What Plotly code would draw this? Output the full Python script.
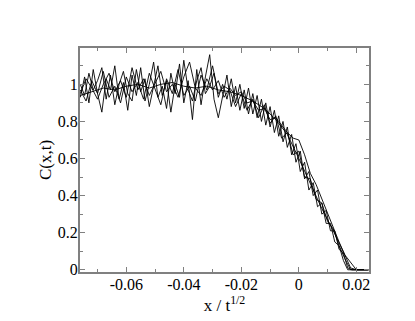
import plotly.graph_objects as go

# ---- data ------------------------------------------------------------------

# fine grid (step 0.0015)
x_fine = [-0.0760, -0.0745, -0.0730, -0.0715, -0.0700, -0.0685, -0.0670, -0.0655,
          -0.0640, -0.0625, -0.0610, -0.0595, -0.0580, -0.0565, -0.0550, -0.0535,
          -0.0520, -0.0505, -0.0490, -0.0475, -0.0460, -0.0445, -0.0430, -0.0415,
          -0.0400, -0.0385, -0.0370, -0.0355, -0.0340, -0.0325, -0.0310, -0.0295,
          -0.0280, -0.0265, -0.0250, -0.0235, -0.0220, -0.0205, -0.0190, -0.0175,
          -0.0160, -0.0145, -0.0130, -0.0115, -0.0100, -0.0085, -0.0070, -0.0055,
          -0.0040, -0.0025, -0.0010, 0.0005, 0.0020, 0.0035, 0.0050, 0.0065,
          0.0080, 0.0095, 0.0110, 0.0125, 0.0140, 0.0155, 0.0170, 0.0185,
          0.0200, 0.0215, 0.0230, 0.0245]

c_run1 = [0.93, 1.04, 0.90, 1.08, 0.95, 0.85, 1.03, 0.97, 1.10, 0.92, 1.01, 0.86,
          1.05, 0.94, 1.09, 0.91, 1.00, 1.12, 0.93, 0.99, 0.87, 1.06, 0.95, 1.11,
          0.90, 1.02, 0.81, 1.08, 0.89, 1.04, 1.16, 0.92, 0.82, 0.94, 1.05, 0.88,
          0.99, 0.86, 0.97, 0.84, 0.95, 0.82, 0.92, 0.78, 0.88, 0.74, 0.83, 0.69,
          0.77, 0.62, 0.68, 0.53, 0.58, 0.43, 0.47, 0.34, 0.36, 0.25, 0.25, 0.15,
          0.13, 0.05, 0.00, 0.00, 0.00, 0.00, 0.00, 0.00]

c_run2 = [1.00, 0.94, 1.06, 0.97, 1.02, 1.09, 0.92, 1.05, 0.89, 1.00, 1.07, 0.95,
          0.91, 1.08, 0.96, 1.03, 0.88, 0.99, 1.10, 0.94, 1.02, 0.85, 1.00, 0.93,
          1.13, 0.97, 0.91, 1.02, 1.09, 0.95, 0.99, 1.06, 0.93, 1.00, 0.92, 1.03,
          0.90, 1.00, 0.87, 0.98, 0.84, 0.94, 0.80, 0.90, 0.77, 0.86, 0.72, 0.80,
          0.66, 0.73, 0.58, 0.64, 0.49, 0.53, 0.40, 0.43, 0.30, 0.32, 0.21, 0.21,
          0.11, 0.09, 0.01, 0.00, 0.00, 0.00, 0.00, 0.00]

# medium grid (step 0.002)
x_mid = [-0.076, -0.074, -0.072, -0.070, -0.068, -0.066, -0.064, -0.062, -0.060,
         -0.058, -0.056, -0.054, -0.052, -0.050, -0.048, -0.046, -0.044, -0.042,
         -0.040, -0.038, -0.036, -0.034, -0.032, -0.030, -0.028, -0.026, -0.024,
         -0.022, -0.020, -0.018, -0.016, -0.014, -0.012, -0.010, -0.008, -0.006,
         -0.004, -0.002, 0.000, 0.002, 0.004, 0.006, 0.008, 0.010, 0.012, 0.014,
         0.016, 0.018, 0.020, 0.022, 0.024]

c_run3 = [0.97, 0.91, 1.02, 0.95, 1.07, 0.93, 0.99, 0.90, 1.04, 0.96, 1.01, 0.92,
          1.06, 0.98, 0.89, 1.03, 0.95, 1.08, 0.94, 0.99, 0.91, 1.05, 0.97, 1.10,
          0.95, 0.99, 0.97, 0.88, 0.95, 0.86, 0.92, 0.82, 0.89, 0.79, 0.83, 0.71,
          0.74, 0.62, 0.64, 0.50, 0.49, 0.38, 0.36, 0.26, 0.22, 0.13, 0.06, 0.00,
          0.00, 0.00, 0.00]

c_run4 = [0.95, 1.03, 0.98, 0.92, 1.00, 1.06, 0.96, 1.02, 0.93, 1.09, 0.97, 1.03,
          0.94, 1.01, 1.07, 0.96, 1.00, 0.93, 1.04, 1.12, 0.98, 0.94, 1.03, 0.97,
          1.02, 0.93, 0.98, 0.94, 0.96, 0.90, 0.91, 0.86, 0.87, 0.81, 0.82, 0.78,
          0.74, 0.71, 0.70, 0.62, 0.52, 0.46, 0.38, 0.31, 0.23, 0.15, 0.08, 0.01,
          0.00, 0.00, 0.00]

# coarse grid (step 0.004)
x_coarse = [-0.076, -0.072, -0.068, -0.064, -0.060, -0.056, -0.052, -0.048, -0.044,
            -0.040, -0.036, -0.032, -0.028, -0.024, -0.020, -0.016, -0.012, -0.008,
            -0.004, 0.000, 0.004, 0.008, 0.012, 0.016, 0.020, 0.024]

c_run5 = [0.94, 0.96, 0.98, 0.97, 0.99, 1.00, 0.98, 1.00, 1.01, 0.99, 0.98, 0.99,
          0.97, 0.96, 0.94, 0.91, 0.87, 0.81, 0.73, 0.60, 0.46, 0.33, 0.21, 0.08,
          0.00, 0.00]

x_tickvals = [-0.06, -0.04, -0.02, 0, 0.02]
x_ticktext = ["-0.06", "-0.04", "-0.02", "0", "0.02"]
y_tickvals = [0, 0.2, 0.4, 0.6, 0.8, 1]
y_ticktext = ["0", "0.2", "0.4", "0.6", "0.8", "1"]

# ---- figure ----------------------------------------------------------------

series = [
    (x_fine, c_run1),
    (x_fine, c_run2),
    (x_mid, c_run3),
    (x_mid, c_run4),
    (x_coarse, c_run5),
]

fig = go.Figure()
for xs, ys in series:
    fig.add_trace(go.Scatter(
        x=xs, y=ys, mode="lines",
        line=dict(color="black", width=0.9),
        showlegend=False,
    ))

axis_common = dict(
    showline=True, linecolor="#808080", linewidth=2, mirror="ticks",
    ticks="inside", ticklen=5, tickwidth=1, tickcolor="#808080",
    showgrid=False, zeroline=False, automargin=False, ticklabelstandoff=-3,
    tickfont=dict(family="Liberation Serif", size=16, color="black"),
)

# page body has an 8px margin, so the plot area is shifted by that amount
fig.update_layout(
    width=415, height=321,
    margin=dict(l=72, r=54, t=40, b=57),
    paper_bgcolor="white", plot_bgcolor="white",
    font=dict(family="Liberation Serif", size=16, color="black"),
    xaxis=dict(
        range=[-0.0761, 0.0244],
        tickvals=x_tickvals, ticktext=x_ticktext,
        minor=dict(ticks="inside", ticklen=3, tickcolor="#808080", dtick=0.01,
                   tick0=0),
        title=dict(text="x / t<sup>1/2</sup>", standoff=0,
                   font=dict(family="Liberation Serif", size=17)),
        **axis_common,
    ),
    yaxis=dict(
        range=[-0.012, 1.196],
        tickvals=y_tickvals, ticktext=y_ticktext,
        minor=dict(ticks="inside", ticklen=3, tickcolor="#808080", dtick=0.1,
                   tick0=0),
        title=dict(text="C(x,t)", standoff=2,
                   font=dict(family="Liberation Serif", size=17)),
        **axis_common,
    ),
)

fig.write_html("out.html")
